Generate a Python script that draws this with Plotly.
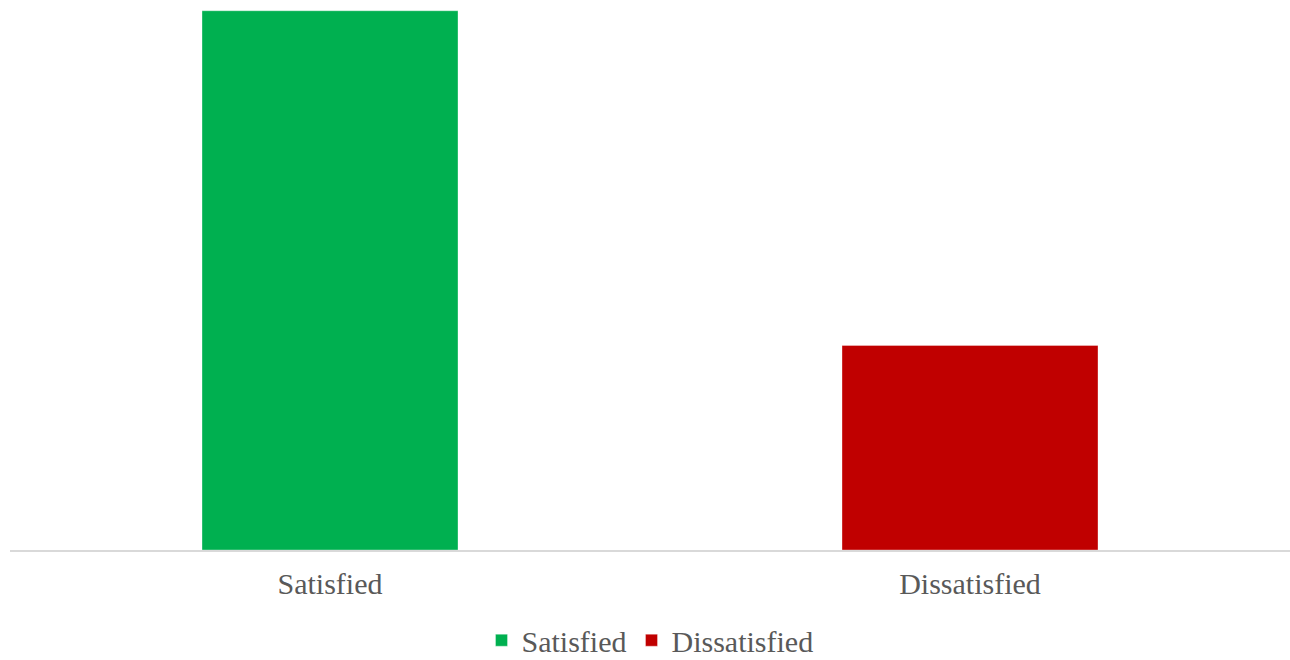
import plotly.graph_objects as go

categories = ["Satisfied", "Dissatisfied"]
values = [72.5, 27.5]
colors = ["#00B050", "#C00000"]

FONT = "Liberation Serif, DejaVu Serif, serif"

fig = go.Figure()
for cat, val, col in zip(categories, values, colors):
    fig.add_trace(go.Bar(
        x=[cat], y=[val], name=cat,
        marker=dict(color=col, line=dict(color="rgba(255,255,255,0.35)", width=1)),
        hoverinfo="skip",
    ))

fig.update_layout(
    width=1290, height=660,
    margin=dict(l=10, r=0, t=10, b=110, autoexpand=False),
    paper_bgcolor="white", plot_bgcolor="white",
    barmode="overlay", bargap=0.6,
    font=dict(family=FONT, size=30, color="#595959"),
    xaxis=dict(showline=True, linecolor="#D9D9D9", linewidth=2, showgrid=False,
               ticks="", ticklabelstandoff=6, automargin=False,
               tickfont=dict(family=FONT, size=30, color="#595959")),
    yaxis=dict(range=[0, 72.6], visible=False, showgrid=False, zeroline=False),
    legend=dict(orientation="h", x=0.5, xanchor="center", yref="container", y=0.03, yanchor="middle",
                font=dict(family=FONT, size=30, color="#595959"), itemwidth=30,
                traceorder="normal", tracegroupgap=0),
)

fig.write_html("out.html")
